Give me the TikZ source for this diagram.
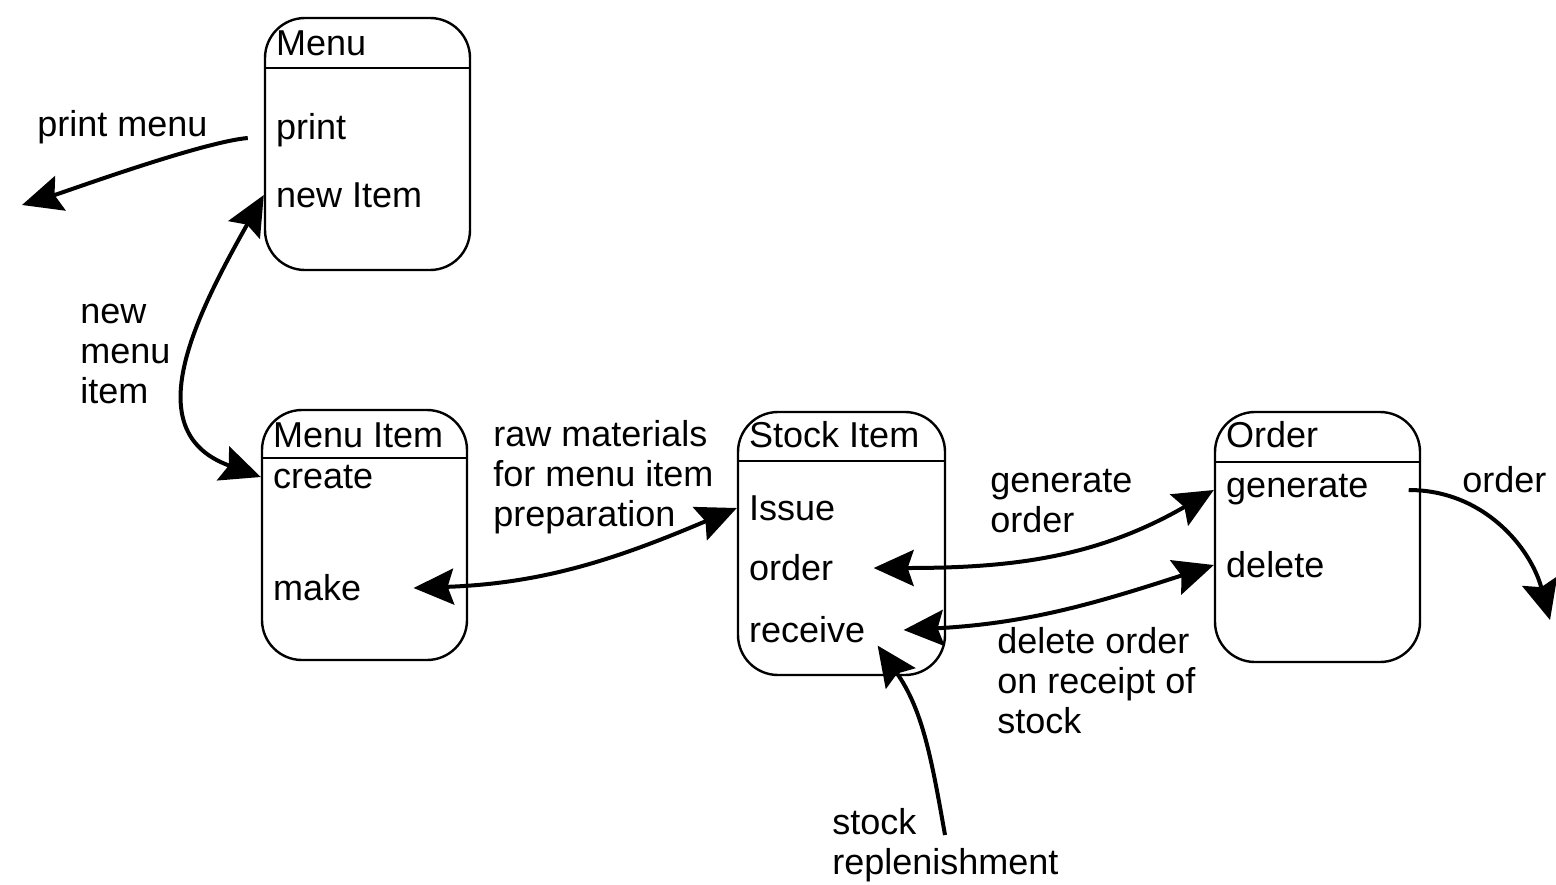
\documentclass[tikz,border=0pt]{standalone}
\usepackage{fontspec}
\setmainfont{Liberation Sans}
\usetikzlibrary{arrows.meta}
\tikzset{
	cls/.style={draw,line width=1.2pt,rounded corners=20pt,minimum width=102.5pt},
	op/.style={anchor=west,inner xsep=6pt,inner ysep=1pt},
	lbl/.style={anchor=west,align=left,inner sep=0pt},
	tip/.style={Stealth[length=20pt,width=18pt,inset=3pt,fill=black]},
	flow/.style={line width=2pt,-{Stealth[length=20pt,width=18pt,inset=3pt,fill=black]}},
	both/.style={line width=2pt,{Stealth[length=20pt,width=18pt,inset=3pt,fill=black]}-{Stealth[length=20pt,width=18pt,inset=3pt,fill=black]}}
}
\begin{document}
\begin{tikzpicture}[x=0.5pt,y=0.5pt,font=\fontsize{18}{20}\selectfont]
	\useasboundingbox (0,-884) rectangle (1556,0);
	\node[cls,minimum height=126pt] (menu) at (367.5,-144) {};
	\node[cls,minimum height=125pt] (menuitem) at (364.5,-535) {};
	\node[cls,minimum height=131.5pt,minimum width=103.5pt] (stockitem) at (841.5,-543.5) {};
	\node[cls,minimum height=125pt] (order) at (1317.5,-537) {};
	\draw[line width=1.2pt] (menu.west |- 0,-68) -- (menu.east |- 0,-68);
	\draw[line width=1.2pt] (menuitem.west |- 0,-458) -- (menuitem.east |- 0,-458);
	\draw[line width=1.2pt] (stockitem.west |- 0,-461) -- (stockitem.east |- 0,-461);
	\draw[line width=1.2pt] (order.west |- 0,-462) -- (order.east |- 0,-462);
	\node[op] (menuT) at (menu.west |- 0,-43) {Menu};
	\node[op] (print) at (menu.west |- 0,-130) {print};
	\node[op] (newitem) at (menu.west |- 0,-195) {new Item};
	\node[op] (menuitemT) at (menuitem.west |- 0,-435) {Menu Item};
	\node[op] (create) at (menuitem.west |- 0,-477) {create};
	\node[op] (make) at (menuitem.west |- 0,-588) {make};
	\node[op] (stockitemT) at (stockitem.west |- 0,-435) {Stock Item};
	\node[op] (issue) at (stockitem.west |- 0,-508) {Issue};
	\node[op] (sorder) at (stockitem.west |- 0,-568) {order};
	\node[op] (receive) at (stockitem.west |- 0,-630) {receive};
	\node[op] (orderT) at (order.west |- 0,-435) {Order};
	\node[op] (generate) at (order.west |- 0,-490) {generate};
	\node[op] (delete) at (order.west |- 0,-565) {delete};
	\node[lbl] (printmenu) at (37,-127) {print menu};
	\node[lbl] (newmenu) at (80,-354) {new\\menu\\item};
	\node[lbl] (raw) at (493,-477) {raw materials\\for menu item\\preparation};
	\node[lbl] (genorder) at (990,-501) {generate\\order};
	\node[lbl] (delorder) at (997,-681) {delete order\\on receipt of\\stock};
	\node[lbl] (orderout) at (1462,-480) {order};
	\node[lbl] (repl) at (832,-845) {stock\\replenishment};
	\coordinate (printend) at (22,-205);
	\coordinate (orderend) at (1550,-620);
	\coordinate (replstart) at (945,-835);
	\draw[flow] ([xshift=-8pt,yshift=-4pt]print.west) to[out=185,in=17,looseness=0.5] (printend);
	\draw[both] (newitem.west) .. controls (191,-324) and (139,-433) .. (create.west);
	\draw[both] ([xshift=20pt]make.east) to[out=2,in=203] (issue.west);
	\draw[both] ([xshift=14pt]sorder.east) to[out=0,in=210] (generate.west);
	\draw[both] ([xshift=13pt]receive.east) to[out=3,in=198] (delete.west);
	\draw[flow] ([xshift=14pt]generate.east) to[out=0,in=105] (orderend);
	\draw[flow] (replstart) to[out=100,in=-55] (receive.south east);
\end{tikzpicture}
\end{document}
